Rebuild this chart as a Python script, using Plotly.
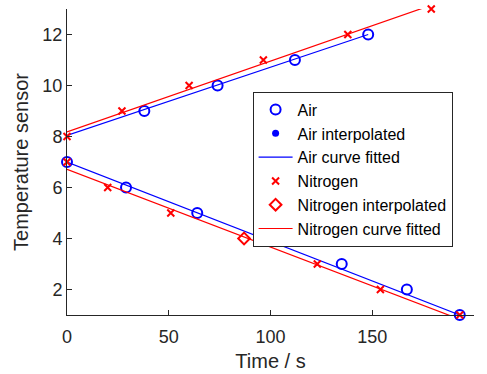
import plotly.graph_objects as go

# ---- data ----
air_time = [0, 29, 64, 135, 167, 193, 38, 74, 112, 148]
air_temp = [7, 6, 5, 3, 2, 1, 9, 10, 11, 12]

air_interp_time = [99]
air_interp_temp = [4]

air_fit_time = [0, 148, None, 0, 193]
air_fit_temp = [8.04, 12.0, None, 7.0, 1.0]

nitrogen_time = [0, 20, 51, 123, 154, 193, 0, 27, 60, 96.5, 138, 179]
nitrogen_temp = [7, 6, 5, 3, 2, 1, 8, 9, 10, 11, 12, 13]

nitrogen_interp_time = [87]
nitrogen_interp_temp = [4]

nitrogen_fit_time = [0, 179, None, 0, 193]
nitrogen_fit_temp = [8.18, 13.15, None, 6.71, 0.83]

x_ticks = [0, 50, 100, 150, 200]
y_ticks = [2, 4, 6, 8, 10, 12]

BLUE = "#0000FF"
RED = "#FF0000"
AX = "#262626"
FONT = "Liberation Sans, Arial, sans-serif"

fig = go.Figure()
fig.add_trace(go.Scatter(x=air_time, y=air_temp, mode="markers", name="Air",
                         marker=dict(symbol="circle-open", size=10, color=BLUE,
                                     line=dict(width=2, color=BLUE)),
                         cliponaxis=False))
fig.add_trace(go.Scatter(x=air_interp_time, y=air_interp_temp, mode="markers",
                         name="Air interpolated",
                         marker=dict(symbol="circle", size=7, color=BLUE),
                         cliponaxis=False))
fig.add_trace(go.Scatter(x=air_fit_time, y=air_fit_temp, mode="lines",
                         name="Air curve fitted",
                         line=dict(color=BLUE, width=1.2)))
fig.add_trace(go.Scatter(x=nitrogen_time, y=nitrogen_temp, mode="markers",
                         name="Nitrogen",
                         marker=dict(symbol="x-thin-open", size=7, color=RED,
                                     line=dict(width=2, color=RED)),
                         cliponaxis=False))
fig.add_trace(go.Scatter(x=nitrogen_interp_time, y=nitrogen_interp_temp,
                         mode="markers", name="Nitrogen interpolated",
                         marker=dict(symbol="diamond-open", size=9, color=RED,
                                     line=dict(width=2, color=RED)),
                         cliponaxis=False))
fig.add_trace(go.Scatter(x=nitrogen_fit_time, y=nitrogen_fit_temp, mode="lines",
                         name="Nitrogen curve fitted",
                         line=dict(color=RED, width=1.2)))

axis_common = dict(showgrid=False, zeroline=False, showline=True, linecolor=AX,
                   linewidth=1, ticks="inside", ticklen=5, tickcolor=AX,
                   tickwidth=1, tickfont=dict(family=FONT, size=18, color=AX),
                   mirror=False, automargin=False)

fig.update_layout(
    width=487, height=374,
    margin=dict(l=67, r=13, t=9, b=59),
    paper_bgcolor="white", plot_bgcolor="white",
    font=dict(family=FONT, color=AX),
    xaxis=dict(range=[0, 200], tickvals=x_ticks, ticklabelstandoff=5,
               title=dict(text="Time / s", font=dict(family=FONT, size=20, color=AX),
                          standoff=8),
               **axis_common),
    yaxis=dict(range=[1, 13], tickvals=y_ticks,
               title=dict(text="Temperature sensor",
                          font=dict(family=FONT, size=20, color=AX), standoff=8),
               **axis_common),
    legend=dict(x=0.456, y=0.73, xanchor="left", yanchor="top",
                bgcolor="white", bordercolor=AX, borderwidth=1,
                font=dict(family=FONT, size=16, color="#000000"),
                tracegroupgap=0, itemwidth=34),
    showlegend=True,
)

fig.write_html("out.html")
